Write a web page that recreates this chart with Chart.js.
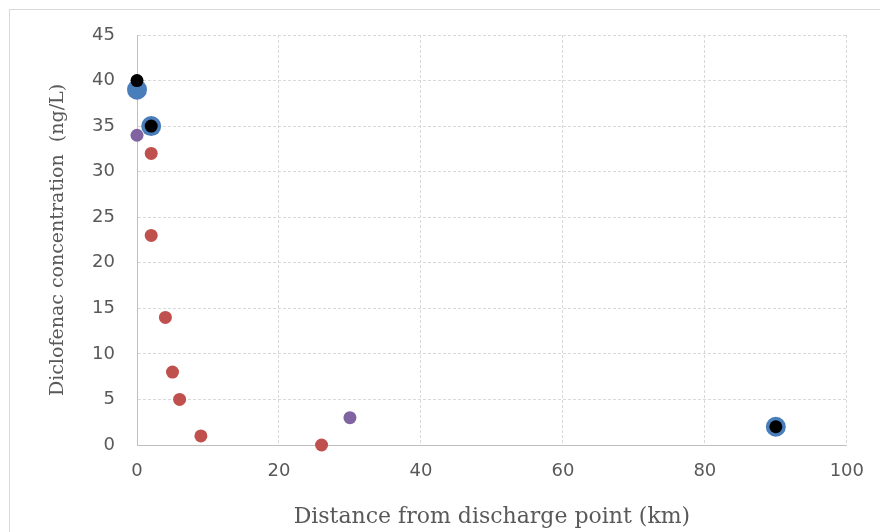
<!DOCTYPE html>
<html>
<head>
<meta charset="utf-8">
<script src="https://cdn.jsdelivr.net/npm/chart.js@4.4.0/dist/chart.umd.min.js"></script>
<style>
  html, body { margin: 0; padding: 0; background: #fff; }
  #wrap { width: 880px; height: 532px; }
</style>
</head>
<body>
<div id="wrap"><canvas id="mycanvas"></canvas></div>
<script>
// distances (km) and concentrations (ng/L)
var blueX = [0, 2, 90];
var blueY = [39, 35, 2];
var blackX = [0, 2, 90];
var blackY = [40, 35, 2];
var purpleX = [0, 30];
var purpleY = [34, 3];
var redX = [2, 2, 4, 5, 6, 9, 26];
var redY = [32, 23, 14, 8, 5, 1, 0];

var xTicks = [0, 20, 40, 60, 80, 100];
var yTicks = [0, 5, 10, 15, 20, 25, 30, 35, 40, 45];

function toPoints(xs, ys) {
	var pts = [];
	for (var i in xs) {
		pts.push({x: xs[i], y: ys[i]});
	}
	return pts;
}

var frame = {
	id: 'frame',
	beforeDraw: function(chart) {
		var c = chart.ctx;
		c.save();
		c.strokeStyle = '#d9d9d9';
		c.lineWidth = 1;
		c.strokeRect(9.5, 9.5, 880, 532);
		c.restore();
	}
};

var ctx = document.getElementById('mycanvas');

var chart = new Chart(ctx, {
	type: 'scatter',
	data: {
		datasets: [
			{ label: 'black', data: toPoints(blackX, blackY), backgroundColor: '#000000', borderWidth: 0, pointRadius: 6.5, clip: false },
			{ label: 'blue', data: toPoints(blueX, blueY), backgroundColor: '#4a7ebb', borderWidth: 0, pointRadius: 10, clip: false },
			{ label: 'purple', data: toPoints(purpleX, purpleY), backgroundColor: '#8064a2', borderWidth: 0, pointRadius: 6.5, clip: false },
			{ label: 'red', data: toPoints(redX, redY), backgroundColor: '#c0504d', borderWidth: 0, pointRadius: 6.5, clip: false }
		]
	},
	options: {
		responsive: true,
		maintainAspectRatio: false,
		animation: false,
		layout: { padding: { left: 10, right: 29, top: 35, bottom: 2 } },
		plugins: {
			legend: { display: false },
			tooltip: { enabled: false }
		},
		scales: {
			x: {
				type: 'linear',
				min: 0, max: 100,
				afterBuildTicks: function(s) { s.ticks = xTicks.map(function(v) { return {value: v}; }); },
				afterFit: function(s) { s.height = 85; },
				grid: { color: '#d9d9d9', drawTicks: false },
				border: { color: '#bfbfbf', dash: [3, 2] },
				ticks: { padding: 16, color: '#595959', font: { family: 'DejaVu Sans', size: 18 } },
				title: {
					display: true,
					text: 'Distance from discharge point (km)',
					color: '#595959',
					font: { family: 'DejaVu Serif', size: 22 },
					padding: { top: 0, bottom: 0 }
				}
			},
			y: {
				type: 'linear',
				min: 0, max: 45,
				afterBuildTicks: function(s) { s.ticks = yTicks.map(function(v) { return {value: v}; }); },
				afterFit: function(s) { s.width = 127; },
				grid: { color: '#d9d9d9', drawTicks: false },
				border: { color: '#bfbfbf', dash: [3, 2] },
				ticks: { padding: 22, color: '#595959', font: { family: 'DejaVu Sans', size: 18 } },
				title: {
					display: true,
					text: 'Diclofenac concentration  (ng/L)',
					color: '#595959',
					font: { family: 'DejaVu Serif', size: 19 },
					padding: { top: 37, bottom: 37 }
				}
			}
		}
	},
	plugins: [frame]
});
</script>
</body>
</html>
